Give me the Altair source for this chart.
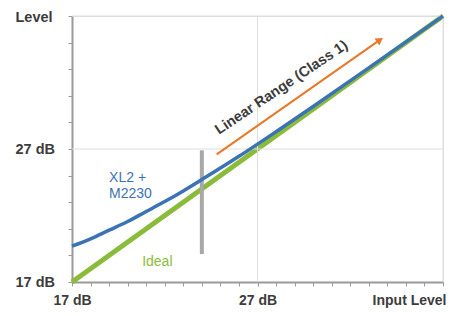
import altair as alt
import pandas as pd

# Ideal response (input level -> level)
ideal_x = [17, 37]
ideal_y = [17, 37]

xl2_x = [17, 18, 19, 20, 21, 22, 23, 24, 26, 28, 30, 33, 37]
xl2_y = [19.7, 20.25, 20.9, 21.55, 22.3, 23.05, 23.85, 24.7, 26.45, 28.3, 30.2, 33.1, 37.0]

# gray marker bar at start of linear range
bar_x = [24]
bar_y1 = [19.1]
bar_y2 = [26.9]

# orange arrow
arrow_x1 = [24.8]
arrow_y1 = [26.6]
arrow_x2 = [33.6]
arrow_y2 = [35.2]

grid_vals = [27, 37]
x_ticks = list(range(17, 38))
y_ticks = list(range(17, 38, 2))

W, H = 371, 266
xs = alt.Scale(domain=[17, 37], nice=False)
ys = alt.Scale(domain=[17, 37], nice=False)

BLUE = "#3b73b5"
GREEN = "#8bbb3a"
ORANGE = "#e8782a"
GRAY = "#a8a8a8"
TXT = "#3c3c3c"
FONT = "Liberation Sans"

ideal_df = pd.DataFrame({"x": ideal_x, "y": ideal_y})
xl2_df = pd.DataFrame({"x": xl2_x, "y": xl2_y})
bar_df = pd.DataFrame({"x": bar_x, "y": bar_y1, "y2": bar_y2})
arrow_df = pd.DataFrame({"x": arrow_x1, "y": arrow_y1, "x2": arrow_x2, "y2": arrow_y2})
grid_df = pd.DataFrame({"x": grid_vals, "y": grid_vals})

x_axis = alt.Axis(
    values=x_ticks, tickCount=len(x_ticks), title=None, grid=False,
    labelExpr="datum.value == 17 || datum.value == 27 ? datum.value + ' dB' : (datum.value == 37 ? 'Input Level' : '')",
    labelAlign={"condition": {"test": "datum.value == 37", "value": "right"}, "value": "center"},
    labelOffset={"condition": {"test": "datum.value == 37", "value": 3}, "value": 0},
    labelFont=FONT, labelFontSize=14, labelFontWeight="bold", labelColor=TXT,
    labelPadding=7, tickSize=4, tickColor="#9a9a9a", domainColor="#9a9a9a", domainWidth=2,
    labelOverlap=False, labelBound=False,
)
y_axis = alt.Axis(
    values=y_ticks, tickCount=len(y_ticks), title=None, grid=False,
    labelExpr="datum.value == 17 || datum.value == 27 ? datum.value + ' dB' : (datum.value == 37 ? 'Level' : '')",
    labelAlign="left", labelBaseline="middle",
    labelOffset={"condition": {"test": "datum.value == 37", "value": 1}, "value": 0},
    labelFont=FONT, labelFontSize=14.5, labelFontWeight="bold", labelColor=TXT,
    labelPadding=53, tickSize=4, tickColor="#9a9a9a", domainColor="#9a9a9a", domainWidth=2,
    labelOverlap=False, labelBound=False,
)

ideal = alt.Chart(ideal_df).mark_line(color=GREEN, strokeWidth=5).encode(
    x=alt.X("x:Q", scale=xs, axis=x_axis), y=alt.Y("y:Q", scale=ys, axis=y_axis)
)
vgrid = alt.Chart(grid_df).mark_rule(color="#dedede", strokeWidth=1).encode(
    x=alt.X("x:Q", scale=xs)
)
hgrid = alt.Chart(grid_df).mark_rule(color="#dedede", strokeWidth=1).encode(
    y=alt.Y("y:Q", scale=ys)
)
xl2 = alt.Chart(xl2_df).mark_line(color=BLUE, strokeWidth=3.5, interpolate="monotone").encode(
    x=alt.X("x:Q", scale=xs), y=alt.Y("y:Q", scale=ys)
)
bar = alt.Chart(bar_df).mark_rule(color=GRAY, strokeWidth=4).encode(
    x=alt.X("x:Q", scale=xs), y=alt.Y("y:Q", scale=ys), y2="y2:Q"
)
arrow_line = alt.Chart(arrow_df).mark_rule(color=ORANGE, strokeWidth=2).encode(
    x=alt.X("x:Q", scale=xs), y=alt.Y("y:Q", scale=ys), x2="x2:Q", y2="y2:Q"
)
arrow_head = alt.Chart(arrow_df).mark_point(
    shape="triangle-right", filled=True, color=ORANGE, size=70, angle=326, opacity=1
).encode(x=alt.X("x2:Q", scale=xs), y=alt.Y("y2:Q", scale=ys))

lab_df = pd.DataFrame({"x": [28.3], "y": [31.6], "t": ["Linear Range (Class 1)"]})
lin_text = alt.Chart(lab_df).mark_text(
    angle=326, font=FONT, fontSize=14.5, fontWeight="bold", color=TXT, align="center", baseline="middle"
).encode(x=alt.X("x:Q", scale=xs), y=alt.Y("y:Q", scale=ys), text="t:N")

xl2_lab = pd.DataFrame({"x": [19.0, 19.0], "y": [24.8, 23.6], "t": ["XL2 +", "M2230"]})
xl2_text = alt.Chart(xl2_lab).mark_text(
    font=FONT, fontSize=14, color=BLUE, align="left", baseline="middle"
).encode(x=alt.X("x:Q", scale=xs), y=alt.Y("y:Q", scale=ys), text="t:N")

ideal_lab = pd.DataFrame({"x": [21.6], "y": [18.5], "t": ["Ideal"]})
ideal_text = alt.Chart(ideal_lab).mark_text(
    font=FONT, fontSize=14, color=GREEN, align="center", baseline="middle"
).encode(x=alt.X("x:Q", scale=xs), y=alt.Y("y:Q", scale=ys), text="t:N")

chart = alt.layer(
    ideal, vgrid, hgrid, bar, xl2, arrow_line, arrow_head, lin_text, xl2_text, ideal_text
).properties(
    width=W, height=H,
    autosize=alt.AutoSizeParams(type="none"),
    padding={"left": 64, "top": 8, "right": 3, "bottom": 26},
).configure_view(stroke=None).configure(background="white")

chart.save("out.html", embed_options={"renderer": "svg", "actions": False})
